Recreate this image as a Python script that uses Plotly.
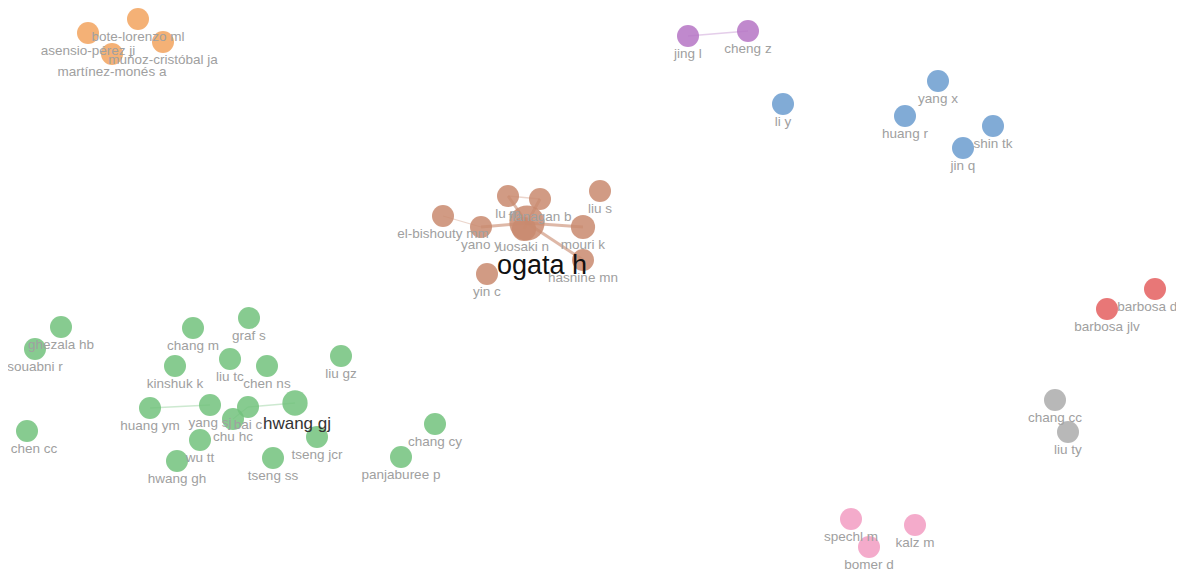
import plotly.graph_objects as go

# ---- data: node names, positions (map coordinates), cluster, weight ----
names = [
    "bote-lorenzo ml", "asensio-pérez ji", "muñoz-cristóbal ja", "martínez-monés a",
    "jing l", "cheng z",
    "li y", "yang x", "huang r", "shin tk", "jin q",
    "ogata h", "el-bishouty mm", "yano y", "uosaki n", "mouri k", "lu m", "flanagan b",
    "liu s", "yin c", "hasnine mn",
    "ghezala hb", "souabni r", "chang m", "graf s", "kinshuk k", "liu tc", "chen ns",
    "liu gz", "huang ym", "yang sj", "bai c", "chu hc", "hwang gj", "tseng jcr",
    "wu tt", "hwang gh", "tseng ss", "chen cc", "chang cy", "panjaburee p",
    "barbosa dn", "barbosa jlv",
    "chang cc", "liu ty",
    "spechl m", "kalz m", "bomer d",
]
xs = [
    138, 88, 163, 112,
    688, 748,
    783, 938, 905, 993, 963,
    527, 443, 481, 524, 583, 508, 540,
    600, 487, 583,
    61, 35, 193, 249, 175, 230, 267,
    341, 150, 210, 248, 233, 295, 317,
    200, 177, 273, 27, 435, 401,
    1155, 1107,
    1055, 1068,
    851, 915, 869,
]
ys = [
    19, 33, 42, 54,
    36, 31,
    104, 81, 116, 126, 148,
    223, 216, 227, 229, 227, 196, 199,
    191, 274, 260,
    327, 349, 328, 318, 366, 359, 366,
    356, 408, 405, 407, 419, 403, 437,
    440, 461, 458, 431, 424, 457,
    289, 309,
    400, 432,
    519, 525, 547,
]
clusters = [
    "orange"] * 4 + ["purple"] * 2 + ["blue"] * 5 + ["brown"] * 10 + ["green"] * 20 + \
    ["red"] * 2 + ["gray"] * 2 + ["pink"] * 3
weights = [
    1, 1, 1, 1,
    1, 1,
    1, 1, 1, 1, 1,
    1.6, 1, 1, 1.1, 1.1, 1, 1,
    1, 1, 1,
    1, 1, 1, 1, 1, 1, 1,
    1, 1, 1, 1, 1, 1.15, 1,
    1, 1, 1, 1, 1, 1,
    1, 1,
    1, 1,
    1, 1, 1,
]
links = [
    ("ogata h", "mouri k"), ("ogata h", "yano y"), ("ogata h", "uosaki n"),
    ("ogata h", "lu m"), ("ogata h", "flanagan b"), ("lu m", "flanagan b"),
    ("ogata h", "hasnine mn"), ("yano y", "el-bishouty mm"),
    ("hwang gj", "bai c"), ("huang ym", "yang sj"), ("bai c", "chu hc"),
    ("jing l", "cheng z"),
]

palette = {
    "orange": "#f2a35e", "purple": "#b574c4", "blue": "#6b9ccf", "brown": "#c98a6e",
    "green": "#72c27c", "red": "#e45f5f", "gray": "#ababab", "pink": "#f29cc2",
}

fig = go.Figure()

idx = {n: i for i, n in enumerate(names)}
for a, b in links:
    i, j = idx[a], idx[b]
    c = palette[clusters[i]]
    strong = "ogata h" in (a, b)
    fig.add_trace(go.Scatter(
        x=[xs[i], xs[j]], y=[ys[i], ys[j]], mode="lines",
        line=dict(color=c, width=3 if strong else 1.3),
        opacity=0.6 if strong else 0.35, hoverinfo="skip", showlegend=False))

for cl in palette:
    ii = [k for k in range(len(names)) if clusters[k] == cl]
    sizes = [22 * weights[k] for k in ii]
    fig.add_trace(go.Scatter(
        x=[xs[k] for k in ii], y=[ys[k] for k in ii], mode="markers",
        marker=dict(size=sizes, color=palette[cl], opacity=0.85, line=dict(width=0)),
        hovertext=[names[k] for k in ii], hoverinfo="text", showlegend=False))

# labels
for k, n in enumerate(names):
    if n == "ogata h":
        size, col, dy, dx = 27, "#111111", 44, 15
    elif n == "hwang gj":
        size, col, dy, dx = 17, "#333333", 22, 2
    else:
        size, col, dy, dx = 13.5, "#a0a0a0", 19, 0
    if n == "chen cc":
        dx = 7
    if n == "barbosa dn":
        dx = -4
    fig.add_trace(go.Scatter(
        x=[xs[k] + dx], y=[ys[k] + dy], mode="text", text=[n], cliponaxis=False,
        textfont=dict(size=size, color=col, family="Liberation Sans, Arial"),
        hoverinfo="skip", showlegend=False))

# the page body has an 8px margin: size the figure and ranges to fill the window
fig.update_layout(
    width=1176, height=570,
    margin=dict(l=0, r=0, t=0, b=0),
    paper_bgcolor="white", plot_bgcolor="white",
    xaxis=dict(range=[8, 1184], visible=False, fixedrange=True),
    yaxis=dict(range=[578, 8], visible=False, fixedrange=True),
)

fig.write_html("out.html")
